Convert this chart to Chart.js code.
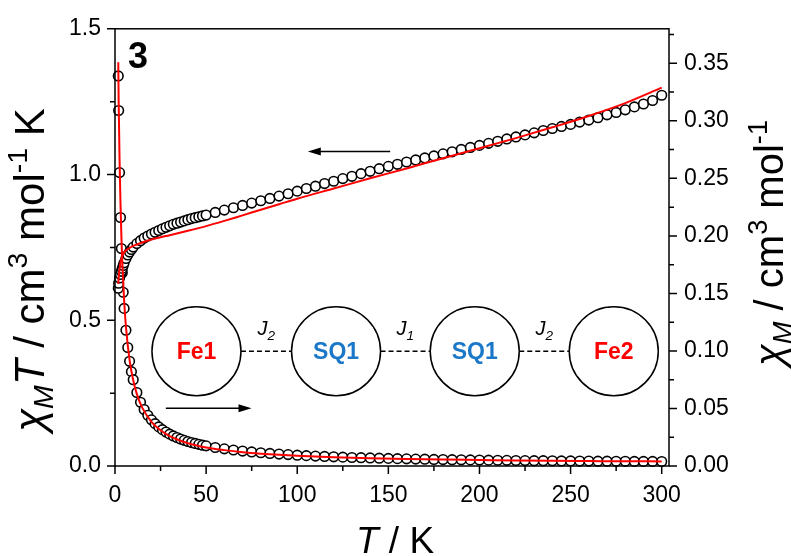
<!DOCTYPE html>
<html>
<head>
<meta charset="utf-8">
<script src="https://cdn.jsdelivr.net/npm/chart.js@4.4.0/dist/chart.umd.min.js"></script>
<style>
  html, body { margin: 0; padding: 0; background: #fff; }
  #wrap { width: 791px; height: 556px; position: relative; }
</style>
</head>
<body>
<div id="wrap"><canvas id="magChart"></canvas></div>
<script>
// measured points (T in K)
const temps = [1.8, 2, 2.5, 3, 3.5, 4, 4.5, 5, 6, 7, 8, 9, 10,
  12, 14, 16, 18, 20, 22, 24, 26, 28, 30, 32, 34, 36, 38, 40, 42, 44, 46, 48, 50,
  55, 60, 65, 70, 75, 80, 85, 90, 95, 100, 105, 110, 115, 120, 125, 130, 135, 140, 145, 150,
  155, 160, 165, 170, 175, 180, 185, 190, 195, 200, 205, 210, 215, 220, 225, 230, 235, 240, 245, 250,
  255, 260, 265, 270, 275, 280, 285, 290, 295, 300];

// chiM*T, cm3 mol-1 K (left axis)
const chiT = [0.610, 0.627, 0.645, 0.657, 0.668, 0.678, 0.688, 0.697, 0.712, 0.724, 0.734, 0.743, 0.751,
  0.763, 0.773, 0.782, 0.789, 0.796, 0.802, 0.808, 0.814, 0.819, 0.824, 0.829, 0.833, 0.837, 0.841, 0.845, 0.849, 0.852, 0.855, 0.858, 0.861,
  0.870, 0.878, 0.886, 0.894, 0.902, 0.910, 0.918, 0.926, 0.934, 0.943, 0.952, 0.960, 0.969, 0.977, 0.986, 0.994, 1.003, 1.011, 1.020, 1.028,
  1.035, 1.043, 1.050, 1.057, 1.064, 1.071, 1.078, 1.086, 1.093, 1.100, 1.107, 1.114, 1.122, 1.129, 1.136, 1.143, 1.151, 1.158, 1.165, 1.172,
  1.180, 1.187, 1.195, 1.205, 1.213, 1.222, 1.232, 1.242, 1.254, 1.272];

// chiM, cm3 mol-1 (right axis)
const chi = [0.339, 0.309, 0.255, 0.216, 0.189, 0.168, 0.151, 0.137, 0.118, 0.103, 0.091, 0.082, 0.075,
  0.0639, 0.0554, 0.0491, 0.0441, 0.0401, 0.0368, 0.0340, 0.0316, 0.0295, 0.0277, 0.0261, 0.0247, 0.0234, 0.0223, 0.0213, 0.0204, 0.0196, 0.0188, 0.0181, 0.0175,
  0.0161, 0.0149, 0.0139, 0.0130, 0.0122, 0.0115, 0.0109, 0.0104, 0.0099, 0.0094, 0.0090, 0.0086, 0.0083, 0.0080, 0.0077, 0.0074, 0.0072, 0.0070, 0.0068, 0.0066,
  0.0064, 0.0062, 0.0060, 0.0059, 0.0057, 0.0056, 0.0055, 0.0054, 0.0053, 0.0052, 0.0051, 0.0050, 0.0049, 0.0048, 0.0047, 0.0046, 0.0046, 0.0045, 0.0044, 0.0044,
  0.0043, 0.0043, 0.0042, 0.0042, 0.0041, 0.0041, 0.0040, 0.0040, 0.0040, 0.0039];

// fitted curves
const fitTemps = [1.8, 2, 2.5, 3, 3.5, 4, 5, 6, 8, 10, 12, 15, 20, 25, 30, 40, 50, 60, 70, 80, 90, 100,
  120, 140, 160, 180, 200, 220, 240, 260, 280, 300];
const fitChiT = [0.625, 0.645, 0.675, 0.697, 0.711, 0.720, 0.732, 0.740, 0.748, 0.755, 0.760, 0.767, 0.777, 0.785, 0.792, 0.807, 0.823, 0.841, 0.860, 0.879, 0.898, 0.917,
  0.952, 0.987, 1.021, 1.056, 1.090, 1.125, 1.162, 1.201, 1.245, 1.298];
const fitChi = [0.351, 0.318, 0.266, 0.229, 0.200, 0.177, 0.144, 0.121, 0.0920, 0.0745, 0.0625, 0.0505, 0.0384, 0.0310, 0.0260, 0.0198, 0.0161, 0.0138, 0.0120, 0.0107, 0.0097, 0.0089,
  0.0076, 0.0068, 0.0061, 0.0056, 0.0052, 0.0048, 0.0045, 0.0043, 0.0041, 0.0040];

const FONT = 'Liberation Sans, Arial, sans-serif';

function pts(xs, ys) {
  return xs.map(function (x, i) { return { x: x, y: ys[i] }; });
}

// text with italic / sub / sup pieces
function richWidth(ctx, parts, size) {
  let w = 0;
  parts.forEach(function (p) {
    const small = p[1].indexOf('sub') >= 0 || p[1].indexOf('sup') >= 0;
    ctx.font = (p[1].indexOf('i') === 0 ? 'italic ' : '') + (small ? size * 0.68 : size) + 'px ' + FONT;
    w += ctx.measureText(p[0]).width;
  });
  return w;
}
function richDraw(ctx, parts, x, y, size) {
  parts.forEach(function (p) {
    const sub = p[1].indexOf('sub') >= 0, sup = p[1].indexOf('sup') >= 0;
    ctx.font = (p[1].indexOf('i') === 0 ? 'italic ' : '') + ((sub || sup) ? size * 0.68 : size) + 'px ' + FONT;
    let dy = 0;
    if (sub) dy = size * 0.22;
    if (sup) dy = -size * 0.4;
    ctx.fillText(p[0], x, y + dy);
    x += ctx.measureText(p[0]).width;
  });
}

function arrow(ctx, x1, y, x2) {
  const dir = x2 > x1 ? 1 : -1;
  ctx.beginPath();
  ctx.moveTo(x1, y);
  ctx.lineTo(x2 - dir * 10, y);
  ctx.stroke();
  ctx.beginPath();
  ctx.moveTo(x2, y);
  ctx.lineTo(x2 - dir * 13, y - 4);
  ctx.lineTo(x2 - dir * 13, y + 4);
  ctx.closePath();
  ctx.fill();
}

const decor = {
  id: 'decor',
  afterDraw: function (chart) {
    const ctx = chart.ctx;
    const a = chart.chartArea;
    const sx = chart.scales.x, sy = chart.scales.y, sr = chart.scales.y1;
    ctx.save();
    ctx.strokeStyle = '#000';
    ctx.fillStyle = '#000';
    ctx.lineWidth = 1.5;
    ctx.strokeRect(a.left, a.top, a.right - a.left, a.bottom - a.top);

    // ticks, pointing out
    ctx.beginPath();
    for (let v = 0; v <= 300; v += 25) {
      const px = sx.getPixelForValue(v);
      ctx.moveTo(px, a.bottom);
      ctx.lineTo(px, a.bottom + (v % 50 === 0 ? 8 : 5));
    }
    for (let k = 0; k <= 6; k++) {
      const py = sy.getPixelForValue(k * 0.25);
      ctx.moveTo(a.left, py);
      ctx.lineTo(a.left - (k % 2 === 0 ? 8 : 5), py);
    }
    for (let k = 0; k <= 15; k++) {
      const py = sr.getPixelForValue(k * 0.025);
      ctx.moveTo(a.right, py);
      ctx.lineTo(a.right + (k % 2 === 0 ? 8 : 5), py);
    }
    ctx.stroke();

    // axis titles
    ctx.textBaseline = 'alphabetic';
    const xt = [['T', 'i'], [' / K', '']];
    richDraw(ctx, xt, 395 - richWidth(ctx, xt, 37) / 2, 553, 37);

    const lt = [['\u03C7', 'i'], ['M', 'i sub'], ['T', 'i'], [' / cm', ''], ['3', 'sup'], [' mol', ''], ['-1', 'sup'], [' K', '']];
    ctx.save();
    ctx.translate(29, 270);
    ctx.rotate(-Math.PI / 2);
    richDraw(ctx, lt, -richWidth(ctx, lt, 42) / 2, 42 * 0.36, 42);
    ctx.restore();

    const rt = [['\u03C7', 'i'], ['M', 'i sub'], [' / cm', ''], ['3', 'sup'], [' mol', ''], ['-1', 'sup']];
    ctx.save();
    ctx.translate(769, 243);
    ctx.rotate(-Math.PI / 2);
    richDraw(ctx, rt, -richWidth(ctx, rt, 40) / 2, 40 * 0.36, 40);
    ctx.restore();

    // compound number
    ctx.font = 'bold 36px ' + FONT;
    ctx.fillText('3', sx.getPixelForValue(7.1), sy.getPixelForValue(1.366));

    // arrows
    arrow(ctx, sx.getPixelForValue(151), sy.getPixelForValue(1.079), sx.getPixelForValue(105.8));
    arrow(ctx, sx.getPixelForValue(27.9), sy.getPixelForValue(0.198), sx.getPixelForValue(74.9));

    // exchange scheme
    const nodes = [['Fe1', '#ff0000', 44.7], ['SQ1', '#1b78c8', 121.3], ['SQ1', '#1b78c8', 197.4], ['Fe2', '#ff0000', 273.7]];
    const links = [['2', 83], ['1', 159.35], ['2', 235.55]];
    const cy = sy.getPixelForValue(0.394);
    const r = 44.5;
    ctx.lineWidth = 1.5;
    nodes.forEach(function (n) {
      ctx.beginPath();
      ctx.arc(sx.getPixelForValue(n[2]), cy, r, 0, Math.PI * 2);
      ctx.stroke();
    });
    ctx.setLineDash([5, 3]);
    for (let i = 0; i < nodes.length - 1; i++) {
      ctx.beginPath();
      ctx.moveTo(sx.getPixelForValue(nodes[i][2]) + r, cy);
      ctx.lineTo(sx.getPixelForValue(nodes[i + 1][2]) - r, cy);
      ctx.stroke();
    }
    ctx.setLineDash([]);
    ctx.font = 'bold 23px ' + FONT;
    ctx.textAlign = 'center';
    ctx.textBaseline = 'middle';
    nodes.forEach(function (n) {
      ctx.fillStyle = n[1];
      ctx.fillText(n[0], sx.getPixelForValue(n[2]), cy + 1);
    });
    ctx.fillStyle = '#000';
    ctx.textAlign = 'left';
    ctx.textBaseline = 'alphabetic';
    links.forEach(function (l) {
      const lp = [['J', 'i'], [l[0], 'i sub']];
      richDraw(ctx, lp, sx.getPixelForValue(l[1]) - richWidth(ctx, lp, 20) / 2, cy - 16, 20);
    });
    ctx.restore();
  }
};

const circleStyle = {
  showLine: false,
  pointStyle: 'circle',
  pointRadius: 4.8,
  pointBorderWidth: 1.6,
  pointBorderColor: '#000',
  pointBackgroundColor: '#fff',
  clip: false,
  order: 2
};
const fitStyle = {
  showLine: true,
  pointRadius: 0,
  borderColor: '#ff0000',
  borderWidth: 2,
  cubicInterpolationMode: 'monotone',
  clip: false,
  order: 1
};

const tickFont = { family: FONT, size: 23 };

new Chart(document.getElementById('magChart'), {
  type: 'scatter',
  data: {
    datasets: [
      Object.assign({ label: 'chiT', data: pts(temps, chiT), yAxisID: 'y' }, circleStyle),
      Object.assign({ label: 'chi', data: pts(temps, chi), yAxisID: 'y1' }, circleStyle),
      Object.assign({ label: 'fit chiT', data: pts(fitTemps, fitChiT), yAxisID: 'y' }, fitStyle),
      Object.assign({ label: 'fit chi', data: pts(fitTemps, fitChi), yAxisID: 'y1' }, fitStyle)
    ]
  },
  options: {
    responsive: true,
    maintainAspectRatio: false,
    animation: false,
    layout: { padding: { top: 24, left: 0, right: 0, bottom: 0 } },
    plugins: { legend: { display: false }, tooltip: { enabled: false } },
    scales: {
      x: {
        type: 'linear',
        min: 0,
        max: 304,
        grid: { display: false, drawTicks: false },
        border: { display: false },
        ticks: { stepSize: 50, includeBounds: false, padding: 16, color: '#000', font: tickFont, maxRotation: 0 },
        afterFit: function (s) { s.height = 90; }
      },
      y: {
        position: 'left',
        min: 0,
        max: 1.5,
        grid: { display: false, drawTicks: false },
        border: { display: false },
        ticks: { stepSize: 0.5, padding: 14, color: '#000', font: tickFont,
          callback: function (v) { return v.toFixed(1); } },
        afterFit: function (s) { s.width = 115; }
      },
      y1: {
        position: 'right',
        min: 0,
        max: 0.38,
        grid: { display: false, drawTicks: false },
        border: { display: false },
        ticks: { stepSize: 0.05, includeBounds: false, padding: 15, color: '#000', font: tickFont,
          callback: function (v) { return v.toFixed(2); } },
        afterFit: function (s) { s.width = 122; }
      }
    }
  },
  plugins: [decor]
});
</script>
</body>
</html>
